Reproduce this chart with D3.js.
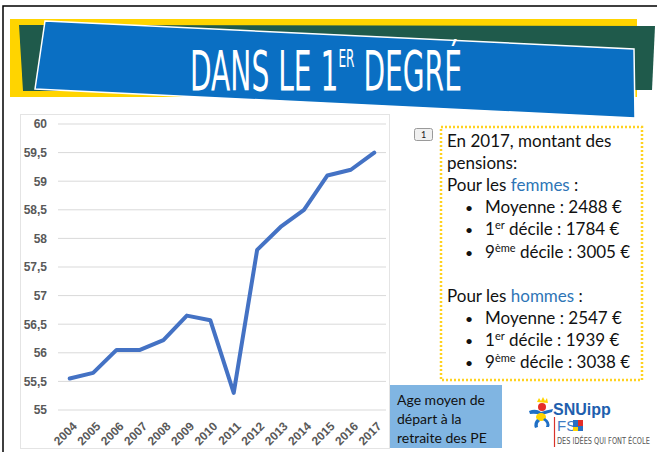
<html>
    <head>
        <meta charset="utf-8">
        <title>Age moyen de départ à la retraite des PE</title>
        <script src="https://d3js.org/d3.v7.min.js"></script>
        <style>
            body { margin: 0; background: #fff; }
            svg { display: block; }
        </style>
    </head>
    <body>
        <div id="slide"></div>
        <script>
            // Input data
            var years = ["2004", "2005", "2006", "2007", "2008", "2009", "2010",
                         "2011", "2012", "2013", "2014", "2015", "2016", "2017"]
            var ages = [55.55, 55.65, 56.05, 56.05, 56.22, 56.65, 56.57,
                        55.3, 57.8, 58.2, 58.5, 59.1, 59.2, 59.5]
            var yTicks = [55, 55.5, 56, 56.5, 57, 57.5, 58, 58.5, 59, 59.5, 60]

            // text of the side box
            var femmes = [["Moyenne : 2488 €"], ["1", "er", " décile : 1784 €"], ["9", "ème", " décile : 3005 €"]]
            var hommes = [["Moyenne : 2547 €"], ["1", "er", " décile : 1939 €"], ["9", "ème", " décile : 3038 €"]]
            var caption = ["Age moyen de", "départ à la", "retraite des PE"]

            var W = 657, H = 452
            var font = "Lato, 'Open Sans', sans-serif"
            var axisFont = "'Liberation Sans', Arial, sans-serif"
            var narrow = "'Liberation Sans Narrow', 'DejaVu Sans Condensed', sans-serif"

            var svg = d3.select("#slide")
              .append("svg")
                .attr("width", W)
                .attr("height", H)

            svg.append("rect").attr("width", W).attr("height", H).attr("fill", "#fff")

            // slide frame (top and left only)
            svg.append("path")
                .attr("d", "M3,452 L3,6 L657,6")
                .attr("fill", "none")
                .attr("stroke", "#000")
                .attr("stroke-width", 1.5)

            // ----- banner -----
            svg.append("rect")
                .attr("x", 10).attr("y", 19).attr("width", 627).attr("height", 78)
                .attr("fill", "#ffd400")
            svg.append("polygon")
                .attr("points", "19,25 655,26 652,90 23,91")
                .attr("fill", "#1f5a4b")
            svg.append("polygon")
                .attr("points", "45,21 634,49 635,118 35,89")
                .attr("fill", "#0a6fc3")
                .attr("stroke", "#fff")
                .attr("stroke-width", 1.5)

            // squeeze a text horizontally so it fits a given width
            function squeeze(sel, x0, y0, w) {
                var n = sel.node().getComputedTextLength()
                sel.attr("transform", "translate(" + x0 + "," + y0 + ") scale(" + (w / n) + ",1)")
            }

            var title = svg.append("text")
                .attr("font-family", narrow)
                .attr("font-size", 56)
                .attr("fill", "#fff")
            title.append("tspan").text("DANS LE 1")
            title.append("tspan").attr("font-size", 24).attr("dy", -23).text("ER")
            title.append("tspan").attr("dy", 23).text(" DEGRÉ")
            squeeze(title, 190, 90, 272)

            // ----- chart panel -----
            svg.append("rect")
                .attr("x", 20.5).attr("y", 114.5).attr("width", 369).attr("height", 334)
                .attr("fill", "#fff")
                .attr("stroke", "#e4e4e4")

            var x = d3.scaleBand().domain(years).range([58, 386])
            var y = d3.scaleLinear().domain([55, 60]).range([410, 124])

            // gridlines
            svg.append("g")
              .selectAll("line")
              .data(yTicks)
              .enter()
              .append("line")
                .attr("x1", 58).attr("x2", 386)
                .attr("y1", function(d) { return y(d) })
                .attr("y2", function(d) { return y(d) })
                .attr("stroke", "#d9d9d9")
                .attr("stroke-width", 1)

            // y axis labels
            var yAxis = svg.append("g")
                .attr("transform", "translate(47,0)")
                .call(d3.axisLeft(y).tickValues(yTicks).tickSize(0).tickPadding(0)
                    .tickFormat(function(d) { return String(d).replace(".", ",") }))
            yAxis.select(".domain").remove()
            yAxis.selectAll("text")
                .attr("font-family", axisFont)
                .attr("font-weight", "bold")
                .attr("font-size", 12)
                .attr("fill", "#595959")

            // x axis labels, rotated -45deg
            svg.append("g")
              .selectAll("g")
              .data(years)
              .enter()
              .append("g")
                .attr("transform", function(d) {
                    return "translate(" + (x(d) + x.bandwidth() / 2 + 8) + ",427) rotate(-45)"
                })
              .append("text")
                .attr("text-anchor", "end")
                .attr("font-family", axisFont)
                .attr("font-weight", "bold")
                .attr("font-size", 12)
                .attr("fill", "#595959")
                .text(function(d) { return d })

            // the line
            var line = d3.line()
                .x(function(d, i) { return x(years[i]) + x.bandwidth() / 2 })
                .y(function(d) { return y(d) })
            svg.append("path")
                .datum(ages)
                .attr("d", line)
                .attr("fill", "none")
                .attr("stroke", "#4472c4")
                .attr("stroke-width", 4)
                .attr("stroke-linejoin", "round")
                .attr("stroke-linecap", "round")

            // ----- side text box -----
            svg.append("rect")
                .attr("x", 414.5).attr("y", 128.5).attr("width", 18).attr("height", 12).attr("rx", 2)
                .attr("fill", "#f0f0f0").attr("stroke", "#9a9a9a")
            svg.append("text")
                .attr("x", 423.5).attr("y", 138).attr("text-anchor", "middle")
                .attr("font-family", font).attr("font-size", 9).attr("fill", "#222")
                .text("1")

            svg.append("rect")
                .attr("x", 441).attr("y", 127).attr("width", 201).attr("height", 253)
                .attr("fill", "none")
                .attr("stroke", "#ffd21f")
                .attr("stroke-width", 2.5)
                .attr("stroke-dasharray", "2,2")

            var box = svg.append("g")
                .attr("font-family", font)
                .attr("font-size", 17)
                .attr("fill", "#111")
            var lh = 22.1, y0 = 147

            box.append("text").attr("x", 447).attr("y", y0).text("En 2017, montant des")
            box.append("text").attr("x", 447).attr("y", y0 + lh).text("pensions:")

            function group(start, word, rows) {
                var t = box.append("text").attr("x", 447).attr("y", y0 + lh * start)
                t.append("tspan").text("Pour les ")
                t.append("tspan").attr("fill", "#2e75b6").text(word)
                t.append("tspan").text(" :")
                rows.forEach(function(r, i) {
                    var yy = y0 + lh * (start + 1 + i)
                    box.append("text").attr("x", 465).attr("y", yy).attr("font-size", 14).text("•")
                    var tt = box.append("text").attr("x", 485).attr("y", yy)
                    tt.append("tspan").text(r[0])
                    if (r.length > 1) {
                        tt.append("tspan").attr("font-size", 11).attr("dy", -6).text(r[1])
                        tt.append("tspan").attr("dy", 6).text(r[2])
                    }
                })
            }
            group(2, "femmes", femmes)
            group(7, "hommes", hommes)

            // ----- caption box -----
            svg.append("rect")
                .attr("x", 390).attr("y", 385).attr("width", 112).attr("height", 63)
                .attr("fill", "#80b5e2")
            svg.append("g")
                .selectAll("text")
                .data(caption)
                .enter()
                .append("text")
                .attr("x", 397)
                .attr("y", function(d, i) { return 405 + i * 19 })
                .attr("font-family", font)
                .attr("font-size", 14)
                .attr("fill", "#111")
                .text(function(d) { return d })

            // ----- logo -----
            var logo = svg.append("g")
            logo.append("path").attr("d", "M537,402 L539,398 L541,401 L543,397 L545,401 L547,398 L548,403 Z").attr("fill", "#ffd400")
            logo.append("circle").attr("cx", 542).attr("cy", 407).attr("r", 4).attr("fill", "#e52d27")
            logo.append("path").attr("d", "M529,411 Q536,408 541,412 Q547,410 553,409 L552,412 Q546,414 541,415 Q535,413 530,414 Z").attr("fill", "#1f6fc5")
            logo.append("ellipse").attr("cx", 541).attr("cy", 417).attr("rx", 5).attr("ry", 4).attr("fill", "#ffd400")
            logo.append("path").attr("d", "M537,419 Q533,423 535,428 L538,427 Q537,423 540,421 Z").attr("fill", "#1f6fc5")
            logo.append("path").attr("d", "M543,420 Q548,423 546,427 L549,427 Q551,422 545,418 Z").attr("fill", "#1f6fc5")
            logo.append("text")
                .attr("x", 553).attr("y", 415)
                .attr("font-family", axisFont)
                .attr("font-weight", "bold").attr("font-size", 16)
                .attr("fill", "#1f5fae")
                .text("SNUipp")
            logo.append("line")
                .attr("x1", 554.5).attr("x2", 554.5).attr("y1", 417).attr("y2", 447)
                .attr("stroke", "#d9332b").attr("stroke-width", 1.2)
            logo.append("text")
                .attr("x", 557).attr("y", 431)
                .attr("font-family", axisFont)
                .attr("font-size", 15)
                .attr("fill", "#3f7cc4")
                .text("FS")
            logo.append("rect").attr("x", 573).attr("y", 420).attr("width", 10).attr("height", 11).attr("fill", "#2a6fc4")
            logo.append("rect").attr("x", 578).attr("y", 420).attr("width", 5).attr("height", 6).attr("fill", "#e52d27")
            logo.append("rect").attr("x", 573).attr("y", 427).attr("width", 5).attr("height", 4).attr("fill", "#ffd400")
            var motto = logo.append("text")
                .attr("font-family", narrow)
                .attr("font-size", 9.5)
                .attr("fill", "#555")
                .text("DES IDÉES QUI FONT ÉCOLE")
            squeeze(motto, 557, 444, 93)
        </script>
    </body>
</html>
